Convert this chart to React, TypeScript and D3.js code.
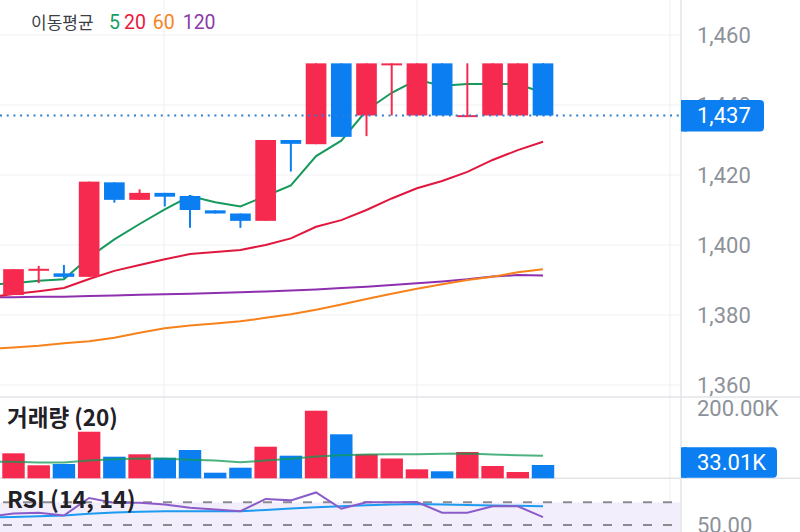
import React from "react";
import * as d3 from "d3";

// ---- data ----
const opens = [1385.7, 1393.0, 1391.9, 1390.9, 1417.9, 1412.9, 1414.9, 1414.0, 1409.9, 1409.0, 1406.9, 1430.0, 1428.8, 1451.9, 1437.0, 1451.8, 1437.0, 1451.9, 1437.0, 1437.0, 1437.0, 1451.9];
const highs = [1393.1, 1394.0, 1394.3, 1418.1, 1417.9, 1415.9, 1414.9, 1414.3, 1409.9, 1409.0, 1430.0, 1430.0, 1451.9, 1451.9, 1451.9, 1451.9, 1451.9, 1451.9, 1451.9, 1451.9, 1451.9, 1451.9];
const lows = [1385.7, 1389.1, 1390.5, 1390.9, 1412.1, 1412.9, 1411.0, 1404.9, 1409.0, 1404.9, 1406.9, 1421.0, 1428.8, 1430.9, 1431.1, 1437.0, 1437.0, 1437.0, 1437.0, 1437.0, 1437.0, 1437.0];
const closes = [1393.1, 1393.2, 1390.9, 1418.1, 1412.9, 1414.9, 1413.8, 1410.0, 1409.0, 1406.9, 1430.0, 1428.9, 1451.9, 1430.9, 1451.9, 1451.9, 1451.9, 1437.0, 1437.1, 1451.9, 1451.9, 1437.0];
const volumesK = [62.0, 32.3, 35.5, 115.6, 53.6, 59.6, 51.1, 70.2, 13.9, 26.3, 78.4, 56.1, 167.7, 109.2, 59.6, 49.1, 22.3, 17.4, 65.3, 30.5, 15.6, 33.01];

// moving averages: first value belongs to the (off-screen) candle before index 0
const ma5 = [1388.7, 1389.1, 1389.8, 1390.2, 1396.5, 1401.6, 1406.0, 1410.2, 1414.0, 1412.2, 1411.0, 1414.0, 1417.0, 1425.4, 1429.8, 1438.5, 1443.5, 1447.2, 1445.5, 1446.0, 1446.0, 1446.0, 1443.5];
const ma20 = [1385.1, 1386.0, 1386.8, 1387.7, 1390.3, 1392.6, 1394.3, 1395.9, 1397.4, 1398.0, 1398.6, 1400.0, 1401.9, 1405.2, 1407.1, 1410.0, 1413.3, 1416.2, 1418.3, 1420.9, 1424.3, 1427.1, 1429.5];
const ma60 = [1370.3, 1370.7, 1371.2, 1371.9, 1372.5, 1373.5, 1374.9, 1376.2, 1377.0, 1377.6, 1378.2, 1379.2, 1380.2, 1381.5, 1383.0, 1384.6, 1386.1, 1387.5, 1388.8, 1390.0, 1390.9, 1392.2, 1393.1];
const ma120 = [1385.0, 1385.1, 1385.2, 1385.2, 1385.4, 1385.6, 1385.8, 1385.9, 1386.1, 1386.3, 1386.5, 1386.7, 1387.0, 1387.3, 1387.7, 1388.1, 1388.6, 1389.1, 1389.6, 1390.2, 1391.0, 1391.4, 1391.3];
const volMA = [41.5, 41, 39.5, 39.5, 44, 47, 49, 48.5, 46, 44, 40, 44, 48.5, 54, 57, 59, 59.6, 59.6, 61, 61.5, 59, 57, 56];
const rsi = [57.1, 60.2, 60.8, 58.4, 73.8, 69.5, 69.5, 68.0, 65.1, 63.7, 62.2, 73.0, 71.7, 78.7, 64.3, 70.0, 70.0, 70.2, 60.8, 60.8, 66.5, 66.5, 57.0];
const rsiSignal = [56.4, 57.1, 57.6, 58.3, 60.0, 61.0, 61.7, 62.2, 62.2, 62.2, 62.2, 63.2, 64.5, 65.7, 66.5, 67.3, 68.0, 68.4, 68.0, 67.6, 67.1, 66.9, 66.5];

const priceTicks = [1360, 1380, 1400, 1420, 1440, 1460];
const lastPrice = 1437;
const lastVolumeLabel = "33.01K";
const volumeTopLabel = "200.00K";
const rsiTickLabel = "50.00";
const legendTitle = "이동평균";
const legendItems = [
  { label: "5", color: "#16a064" },
  { label: "20", color: "#e8193e" },
  { label: "60", color: "#f7831e" },
  { label: "120", color: "#8e3aa8" },
];

// ---- layout ----
const W = 800;
const H = 532;
const AXIS_X = 681;
const PRICE_BOTTOM = 397;
const VOL_BOTTOM = 478.3;

const UP = "#f62a4f";
const DOWN = "#0b7ff2";
const GRID = "#f0f1f4";
const SEP = "#e3e4e8";
const AXIS_TEXT = "#8d9199";
const NUM_FONT = "Roboto, 'Noto Sans', sans-serif";
const KR_FONT = "'Noto Sans CJK KR', 'Noto Sans', sans-serif";

export default function App() {
  const x = d3.scaleLinear().domain([0, 21]).range([13.5, 543]);
  const step = x(1) - x(0);
  const yP = d3.scaleLinear().domain([1360, 1460]).range([385, 35]);
  const yV = d3.scaleLinear().domain([0, 200]).range([VOL_BOTTOM, 397.7]);
  const yR = d3.scaleLinear().domain([50, 70]).range([525, 502.3]);

  const idx = (arr: number[]) => arr.map((v, i) => [x(i - 1), v] as [number, number]);
  const lineP = d3.line<[number, number]>().x((d) => d[0]).y((d) => yP(d[1]));
  const lineV = d3.line<[number, number]>().x((d) => d[0]).y((d) => yV(d[1]));
  const lineR = d3.line<[number, number]>().x((d) => d[0]).y((d) => yR(d[1]));

  const candleW = step * 0.82;
  const volW = step * 0.89;
  const vGrid = [164, 417, 670];

  return (
    <svg
      width={W}
      height={H}
      style={{ position: "absolute", left: 0, top: 0, background: "#fff" }}
    >
      <defs>
        <clipPath id="plotClip">
          <rect x={0} y={0} width={AXIS_X} height={H} />
        </clipPath>
      </defs>

      {/* RSI band fill */}
      <rect x={0} y={yR(70)} width={AXIS_X} height={H - yR(70)} fill="#f2eefb" />

      {/* grid */}
      {priceTicks.map((t) => (
        <line key={t} x1={0} x2={AXIS_X} y1={yP(t)} y2={yP(t)} stroke={GRID} strokeWidth={1.2} />
      ))}
      {vGrid.map((gx) => (
        <line key={gx} x1={gx} x2={gx} y1={0} y2={H} stroke={GRID} strokeWidth={1.2} />
      ))}
      <line x1={0} x2={W} y1={PRICE_BOTTOM} y2={PRICE_BOTTOM} stroke={SEP} strokeWidth={1.5} />
      <line x1={0} x2={W} y1={VOL_BOTTOM} y2={VOL_BOTTOM} stroke={SEP} strokeWidth={1.5} />
      <line x1={AXIS_X} x2={AXIS_X} y1={0} y2={H} stroke={SEP} strokeWidth={1.5} />

      {/* RSI dashed levels */}
      {[70, 50].map((lv) => (
        <line key={lv} x1={0} x2={AXIS_X} y1={yR(lv)} y2={yR(lv)} stroke="#8a8a92" strokeWidth={2} strokeDasharray="9 11" strokeDashoffset={-3} />
      ))}

      <g clipPath="url(#plotClip)">
        {/* MAs behind candles */}
        <path d={lineP(idx(ma120)) || ""} fill="none" stroke="#8e2fb0" strokeWidth={2} />
        <path d={lineP(idx(ma60)) || ""} fill="none" stroke="#f7821b" strokeWidth={2} />
        <path d={lineP(idx(ma20)) || ""} fill="none" stroke="#e0173d" strokeWidth={2} />
        <path d={lineP(idx(ma5)) || ""} fill="none" stroke="#169a5c" strokeWidth={2} />

        {/* candles */}
        {opens.map((o, i) => {
          const c = closes[i];
          const col = c >= o ? UP : DOWN;
          const cx = x(i);
          const top = yP(Math.max(o, c));
          const bot = yP(Math.min(o, c));
          const h = Math.max(bot - top, 2);
          return (
            <g key={i}>
              <line x1={cx} x2={cx} y1={yP(highs[i])} y2={yP(lows[i])} stroke={col} strokeWidth={2} />
              <rect x={cx - candleW / 2} y={top} width={candleW} height={h} fill={col} />
            </g>
          );
        })}

        {/* last price dotted line */}
        <line x1={0} x2={AXIS_X} y1={yP(lastPrice)} y2={yP(lastPrice)} stroke="#2f7fd1" strokeWidth={2} strokeDasharray="2 4.7" />

        {/* volume */}
        {volumesK.map((v, i) => {
          const col = closes[i] >= opens[i] ? UP : DOWN;
          return (
            <rect key={i} x={x(i) - volW / 2} y={yV(v)} width={volW} height={VOL_BOTTOM - yV(v)} fill={col} />
          );
        })}
        <path d={lineV(idx(volMA)) || ""} fill="none" stroke="#109a55" strokeOpacity={0.75} strokeWidth={2} />

        {/* RSI */}
        <path d={lineR(idx(rsiSignal)) || ""} fill="none" stroke="#1d9bf0" strokeWidth={2} />
        <path d={lineR(idx(rsi)) || ""} fill="none" stroke="#8b5cc9" strokeWidth={2} />
      </g>

      {/* legend */}
      <text x={31} y={28.5} fontFamily={KR_FONT} fontSize={17} fill="#3b3e45">
        {legendTitle}
      </text>
      {(() => {
        const xs = [109, 124, 152.7, 182.7];
        return legendItems.map((it, i) => (
          <text key={it.label} x={xs[i]} y={29.3} fontFamily={NUM_FONT} fontSize={19.5} fill={it.color}>
            {it.label}
          </text>
        ));
      })()}

      {/* pane titles */}
      <text x={7} y={425.5} fontFamily={KR_FONT} fontWeight={700} fontSize={22.5} fill="#1f2127">
        거래량 (20)
      </text>
      <text x={7} y={507.5} fontFamily={KR_FONT} fontWeight={700} fontSize={23.3} fill="#1f2127">
        RSI (14, 14)
      </text>

      {/* price axis */}
      {priceTicks.map((t) => (
        <text key={t} x={697} y={yP(t)} dy="0.36em" fontFamily={NUM_FONT} fontSize={22} fill={AXIS_TEXT}>
          {d3.format(",")(t)}
        </text>
      ))}
      <rect x={AXIS_X} y={yP(lastPrice) - 15.5} width={83} height={31.5} rx={4} fill="#0b7ff2" />
      <rect x={AXIS_X} y={yP(lastPrice) - 15.5} width={6} height={31.5} fill="#0b7ff2" />
      <text x={697} y={yP(lastPrice)} dy="0.36em" fontFamily={NUM_FONT} fontSize={22} fill="#fff">
        {d3.format(",")(lastPrice)}
      </text>

      {/* volume axis */}
      <text x={697} y={408} dy="0.36em" fontFamily={NUM_FONT} fontSize={22} fill={AXIS_TEXT}>
        {volumeTopLabel}
      </text>
      <rect x={AXIS_X} y={447.3} width={96} height={30.5} rx={4} fill="#0b7ff2" />
      <rect x={AXIS_X} y={447.3} width={6} height={30.5} fill="#0b7ff2" />
      <text x={697} y={462.5} dy="0.36em" fontFamily={NUM_FONT} fontSize={22} fill="#fff">
        {lastVolumeLabel}
      </text>

      {/* RSI axis */}
      <text x={697} y={yR(50)} dy="0.36em" fontFamily={NUM_FONT} fontSize={22} fill={AXIS_TEXT}>
        {rsiTickLabel}
      </text>
    </svg>
  );
}
